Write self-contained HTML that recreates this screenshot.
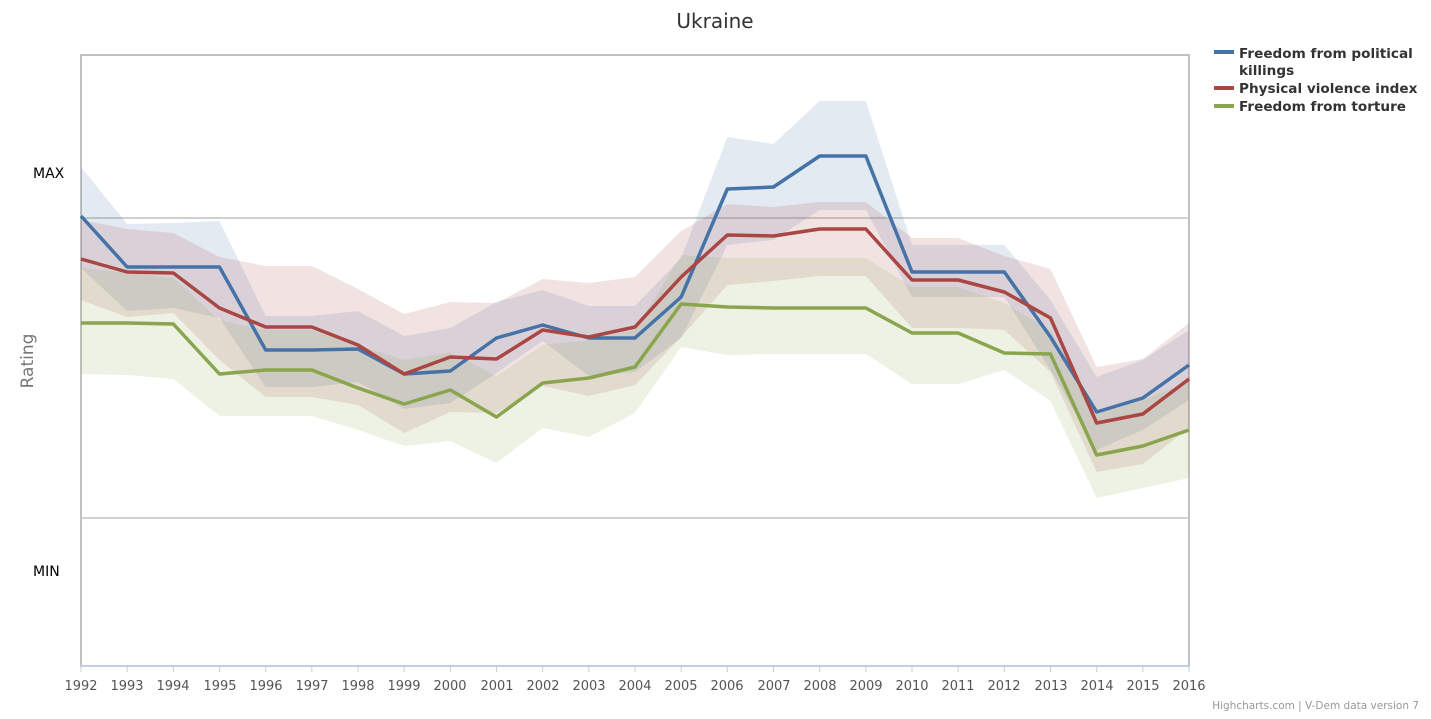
<!DOCTYPE html>
<html><head><meta charset="utf-8"><style>
body{margin:0;width:1431px;height:715px;background:#fff;overflow:hidden;font-family:"DejaVu Sans","Liberation Sans",sans-serif}
svg text{font-family:"DejaVu Sans","Liberation Sans",sans-serif}
</style></head><body>
<svg id="s" width="1431" height="715" xmlns="http://www.w3.org/2000/svg">
<text x="715" y="28" text-anchor="middle" font-size="20" fill="#333">Ukraine</text>
<rect x="81" y="55" width="1108" height="611" fill="none" stroke="#c0c0c0" stroke-width="2"/>
<line x1="81" y1="218" x2="1189" y2="218" stroke="#d0d0d0" stroke-width="2"/>
<line x1="81" y1="518" x2="1189" y2="518" stroke="#d0d0d0" stroke-width="2"/>
<g id="bands"></g><g id="lines"></g>
<line x1="81" y1="666" x2="1189" y2="666" stroke="#c0d0e0" stroke-width="2"/>
<text x="33" y="178" font-size="14" fill="#000">MAX</text>
<text x="33" y="576" font-size="14" fill="#000">MIN</text>
<text x="33" y="361" font-size="17" fill="#777" text-anchor="middle" transform="rotate(-90 33 361)">Rating</text>
<g font-size="13" fill="#555" text-anchor="middle">
<text x="81" y="690">1992</text><text x="127" y="690">1993</text><text x="173" y="690">1994</text><text x="220" y="690">1995</text><text x="266" y="690">1996</text><text x="312" y="690">1997</text><text x="358" y="690">1998</text><text x="404" y="690">1999</text><text x="450" y="690">2000</text><text x="497" y="690">2001</text><text x="543" y="690">2002</text><text x="589" y="690">2003</text><text x="635" y="690">2004</text><text x="681" y="690">2005</text><text x="727" y="690">2006</text><text x="774" y="690">2007</text><text x="820" y="690">2008</text><text x="866" y="690">2009</text><text x="912" y="690">2010</text><text x="958" y="690">2011</text><text x="1004" y="690">2012</text><text x="1051" y="690">2013</text><text x="1097" y="690">2014</text><text x="1143" y="690">2015</text><text x="1189" y="690">2016</text>
</g>
<g id="ticks"></g>
<g font-size="13.6" font-weight="bold" fill="#333">
<line x1="1214" y1="52" x2="1234" y2="52" stroke="#4572a7" stroke-width="4"/>
<text x="1239" y="58">Freedom from political</text><text x="1239" y="75">killings</text>
<line x1="1214" y1="88" x2="1234" y2="88" stroke="#aa4643" stroke-width="4"/>
<text x="1239" y="93">Physical violence index</text>
<line x1="1214" y1="106" x2="1234" y2="106" stroke="#89a54e" stroke-width="4"/>
<text x="1239" y="111">Freedom from torture</text>
</g>
<text x="1419" y="709" font-size="10.5" fill="#999" text-anchor="end">Highcharts.com | V-Dem data version 7</text>
</svg>
<script>
const X=i=>81+i*1108/24;
const S=[
{c:'#4572a7',f:'rgba(69,114,167,0.15)',
m:[216,267,267,267,350,350,349,374,371,338,325,338,338,297,189,187,156,156,272,272,272,337,412,398,365],
u:[167,224,223,221,316,316,311,336,328,302,290,306,306,258,137,144,101,101,245,245,245,300,377,360,330],
l:[268,311,308,318,387,387,382,409,403,373,341,376,372,338,245,240,210,210,297,297,297,370,450,430,400]},
{c:'#aa4643',f:'rgba(170,70,67,0.15)',
m:[259,272,273,308,327,327,345,374,357,359,330,337,327,277,235,236,229,229,280,280,292,318,423,414,379],
u:[220,229,233,257,266,266,289,314,302,303,279,283,277,231,204,207,202,202,238,238,256,269,367,359,323],
l:[300,317,313,360,397,397,405,433,412,413,386,396,385,337,285,281,276,276,328,328,330,372,472,464,428]},
{c:'#89a54e',f:'rgba(137,165,78,0.15)',
m:[323,323,324,374,370,370,388,404,390,417,383,378,367,304,307,308,308,308,333,333,353,354,455,446,430],
u:[268,273,278,320,330,330,345,360,352,376,345,340,330,255,258,258,258,258,287,287,303,330,410,400,382],
l:[374,375,379,416,416,416,430,446,441,463,428,437,413,347,355,354,354,354,384,384,370,401,498,488,478]}];
const ns='http://www.w3.org/2000/svg';
const B=document.getElementById('bands'),L=document.getElementById('lines'),T=document.getElementById('ticks');
for(let i=0;i<25;i++){const t=document.createElementNS(ns,'line');t.setAttribute('x1',X(i));t.setAttribute('x2',X(i));t.setAttribute('y1',666);t.setAttribute('y2',672);t.setAttribute('stroke','#c0d0e0');T.appendChild(t);}
S.forEach(s=>{
 let d='M'+s.u.map((v,i)=>X(i)+','+v).join('L')+'L'+s.l.map((v,i)=>X(i)+','+v).reverse().join('L')+'Z';
 const p=document.createElementNS(ns,'path');p.setAttribute('d',d);p.setAttribute('fill',s.f);B.appendChild(p);
});
S.forEach(s=>{
 const p=document.createElementNS(ns,'polyline');p.setAttribute('points',s.m.map((v,i)=>X(i)+','+v).join(' '));
 p.setAttribute('fill','none');p.setAttribute('stroke',s.c);p.setAttribute('stroke-width','3.5');p.setAttribute('stroke-linejoin','round');L.appendChild(p);
});
</script>
</body></html>
